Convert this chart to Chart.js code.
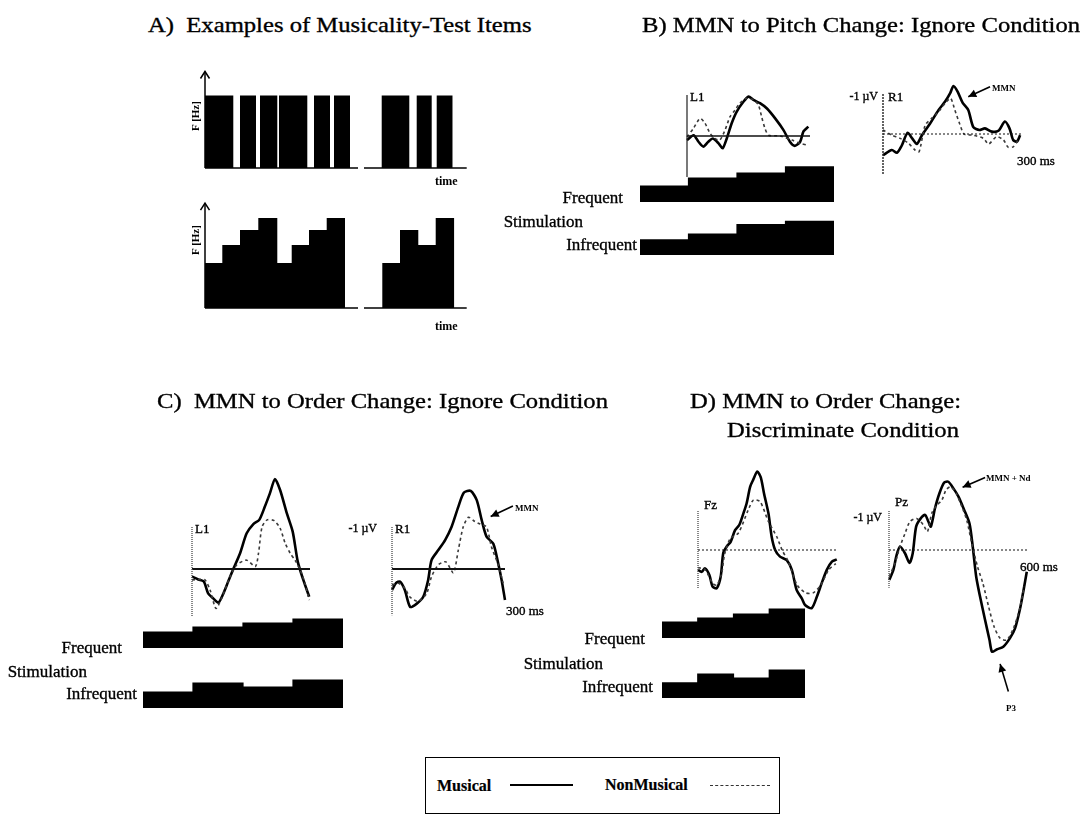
<!DOCTYPE html>
<html>
<head>
<meta charset="utf-8">
<script src="https://cdn.jsdelivr.net/npm/chart.js@4.4.1/dist/chart.umd.min.js"></script>
<style>
  html, body { margin: 0; padding: 0; background: #fff; }
  #fig { position: relative; width: 1086px; height: 816px; overflow: hidden;
         font-family: "Liberation Serif", "Times New Roman", serif; color: #000; }
  .t { position: absolute; white-space: pre; line-height: 1; -webkit-text-stroke: 0.35px #000; }
  canvas { position: absolute; }
  .legend { position: absolute; border: 1.5px solid #000; box-sizing: border-box; }
</style>
</head>
<body>
<div id="fig"></div>
<script>
// ---------- Panel A: musicality-test tone sequences (ms, Hz) ----------
const pitchItemOnsets  = [0, 350, 550, 740, 1090, 1290, 1767, 2117, 2317];
const pitchItemOffsets = [283, 510, 723, 1023, 1250, 1450, 2043, 2267, 2477];
const pitchItemFreqs   = [725, 725, 725, 725, 725, 725, 725, 725, 725];

const orderItemOnsets  = [0, 173, 350, 533, 723, 867, 1040, 1217, 1773, 1950, 2133, 2307];
const orderItemOffsets = [173, 350, 533, 723, 867, 1040, 1217, 1400, 1950, 2133, 2307, 2493];
const orderItemFreqs   = [450, 630, 780, 900, 450, 630, 780, 900, 450, 780, 630, 900];

const itemTimeEnd = 2617;
const itemBreak = [1530, 1590];

// ---------- Stimulation sequences (relative pitch level per tone) ----------
const toneSlots = ['1', '2', '3', '4'];
const stimB_frequent   = [1.0, 1.5, 1.8, 2.2];
const stimB_infrequent = [0.95, 1.3, 1.9, 2.1];
const stimC_frequent   = [1.0, 1.3, 1.55, 1.8];
const stimC_infrequent = [1.0, 1.55, 1.3, 1.75];
const stimD_frequent   = [1.0, 1.25, 1.5, 1.8];
const stimD_infrequent = [0.95, 1.5, 1.25, 1.75];

// ---------- ERP waveforms (time ms, amplitude µV, negative up) ----------
const bL1_musT = [0, 16, 28, 40, 52, 63, 77, 87, 97, 109, 121, 138, 150, 162, 178, 195, 215, 235, 251, 263, 276, 284, 296];
const bL1_mus  = [0.1, -0.02, 0.14, 0.26, 0.14, 0.06, 0.18, 0.30, 0.06, -0.31, -0.59, -0.84, -0.96, -0.88, -0.80, -0.67, -0.43, -0.15, 0.14, 0.24, 0.14, -0.11, -0.23];
const bL1_nonT = [0, 16, 32, 44, 56, 68, 80, 93, 105, 117, 129, 146, 162, 174, 182, 190, 199, 227, 256, 276, 292];
const bL1_non  = [0.02, -0.19, -0.43, -0.31, -0.07, 0.06, 0.10, -0.15, -0.47, -0.63, -0.80, -0.92, -0.88, -0.76, -0.47, -0.19, -0.02, 0, 0.10, 0.18, 0.22];

const bR1_musT = [0, 19, 30, 40, 53, 63, 73, 84, 102, 120, 134, 145, 152, 161, 172, 184, 195, 208, 220, 235, 249, 263, 273, 281, 289, 296];
const bR1_mus  = [0.53, 0.40, 0.47, 0.30, -0.03, 0.11, 0.25, 0.03, -0.27, -0.60, -0.81, -1.02, -1.20, -1.06, -0.78, -0.60, -0.17, -0.10, -0.14, -0.06, -0.08, -0.31, -0.14, 0.15, 0.19, 0.03];
const bR1_nonT = [0, 19, 37, 55, 69, 78, 91, 105, 120, 134, 146, 155, 165, 175, 195, 217, 228, 245, 260, 270, 281, 292];
const bR1_non  = [-0.10, 0.03, 0.11, 0.23, 0.40, 0.44, -0.22, -0.39, -0.56, -0.77, -0.89, -0.60, -0.27, 0, 0.03, 0.11, 0.25, 0.07, 0.15, 0.33, 0.32, 0.15];

const cL1_musT = [0, 16, 30, 41, 54, 67, 78, 92, 105, 122, 139, 156, 171, 185, 198, 211, 224, 241, 256, 269, 283, 298];
const cL1_mus  = [0.18, 0.25, 0.30, 0.58, 0.70, 0.80, 0.62, 0.30, 0, -0.37, -0.85, -1.07, -1.17, -1.48, -1.80, -2.14, -1.88, -1.33, -0.89, -0.17, 0.26, 0.66];
const cL1_nonT = [0, 16, 33, 46, 61, 75, 97, 114, 139, 161, 169, 178, 191, 209, 224, 237, 250, 262, 275, 287, 298];
const cL1_non  = [0.26, 0.25, 0.26, 0.50, 0.94, 0.70, 0.18, -0.10, -0.21, -0.06, -0.37, -1.00, -1.17, -1.15, -0.97, -0.61, -0.37, -0.21, 0.02, 0.34, 0.74];

const cR1_musT = [0, 11, 21, 34, 48, 65, 83, 96, 105, 123, 141, 158, 176, 191, 209, 225, 238, 251, 269, 282, 291, 300];
const cR1_mus  = [0.50, 0.33, 0.30, 0.50, 0.90, 0.83, 0.66, 0.26, -0.21, -0.45, -0.69, -1.00, -1.48, -1.82, -1.86, -1.64, -1.17, -0.77, -0.60, -0.13, 0.26, 0.74];
const cR1_nonT = [0, 17, 34, 48, 70, 92, 105, 123, 143, 163, 176, 189, 203, 220, 234, 251, 264, 282, 295];
const cR1_non  = [0.38, 0.34, 0.46, 0.67, 0.77, 0.58, 0.18, -0.10, -0.17, 0.09, -0.45, -1.00, -1.23, -1.13, -1.07, -1.00, -0.53, -0.10, 0.34];

const dFz_musT = [0, 16, 30, 49, 63, 81, 98, 109, 124, 141, 160, 178, 196, 210, 225, 239, 256, 271, 285, 304, 318, 333, 354, 383, 405, 426, 448, 462, 491, 513, 534, 556, 578, 599];
const dFz_mus  = [0.51, 0.56, 0.47, 0.64, 0.94, 0.98, 0.68, 0.08, -0.09, -0.21, -0.51, -0.64, -0.94, -1.20, -1.62, -1.81, -2.01, -1.86, -1.45, -0.94, -0.34, 0, 0.17, 0.26, 0.51, 1.03, 1.24, 1.41, 1.49, 1.20, 0.85, 0.51, 0.30, 0.24];
const dFz_nonT = [0, 30, 63, 81, 102, 115, 140, 174, 217, 239, 268, 304, 340, 363, 390, 428, 465, 497, 530, 564, 595];
const dFz_non  = [0.45, 0.50, 0.85, 0.90, 0.60, 0.10, -0.30, -0.43, -1.03, -1.28, -1.24, -0.73, -0.34, 0, 0.30, 0.90, 1.10, 1.10, 0.90, 0.51, 0.35];

const dPz_musT = [1, 19, 33, 48, 70, 89, 103, 118, 138, 157, 171, 182, 200, 219, 240, 258, 280, 302, 326, 350, 364, 379, 396, 418, 437, 448, 468, 497, 526, 548, 570, 585, 599];
const dPz_mus  = [0.77, 0.51, 0.13, -0.09, 0.09, 0.33, 0.09, -0.60, -0.81, -0.90, -0.73, -0.60, -1.07, -1.45, -1.73, -1.75, -1.58, -1.37, -1.04, -0.68, -0.09, 0.68, 1.20, 1.80, 2.31, 2.61, 2.55, 2.48, 2.26, 2.01, 1.50, 1.03, 0.56];
const dPz_nonT = [1, 26, 48, 70, 91, 120, 150, 167, 186, 208, 230, 248, 268, 292, 317, 338, 360, 385, 408, 433, 457, 483, 512, 541, 567, 587];
const dPz_non  = [0.68, 0.34, -0.09, -0.43, -0.73, -0.81, -0.64, -0.47, -0.94, -1.15, -1.28, -1.54, -1.62, -1.45, -1.11, -0.77, -0.17, 0.43, 0.85, 1.45, 1.97, 2.26, 2.31, 2.01, 1.54, 0.94];

// Component pointers: [from ms, from µV, to ms, to µV]
const bR1_mmnArrow = [231, -1.18, 184, -0.93];
const cR1_mmnArrow = [321, -1.50, 262, -1.25];
const dPz_mmnArrow = [418, -1.86, 320, -1.61];
const dPz_p3Arrow  = [519, 3.63, 483, 2.92];

// ---------- helpers ----------
const fig = document.getElementById('fig');

const arrowHeads = {
  id: 'arrowHeads',
  afterDatasetsDraw(chart) {
    const ctx = chart.ctx;
    chart.data.datasets.forEach((ds, i) => {
      const h = ds.arrowHead;
      if (!h) return;
      const pts = chart.getDatasetMeta(i).data;
      const a = pts[pts.length - 2], b = pts[pts.length - 1];
      const ang = Math.atan2(b.y - a.y, b.x - a.x);
      const c = Math.cos(ang), s = Math.sin(ang);
      const bx = b.x - h.len * c, by = b.y - h.len * s;
      ctx.save();
      ctx.strokeStyle = ds.borderColor;
      ctx.fillStyle = ds.borderColor;
      ctx.lineWidth = ds.borderWidth;
      ctx.beginPath();
      ctx.moveTo(bx + h.half * s, by - h.half * c);
      ctx.lineTo(b.x, b.y);
      ctx.lineTo(bx - h.half * s, by + h.half * c);
      if (h.open) ctx.stroke(); else { ctx.closePath(); ctx.fill(); }
      ctx.restore();
    });
  }
};
Chart.register(arrowHeads);

function place(left, top, w, h, pad, config) {
  const cv = document.createElement('canvas');
  cv.width = w + 2 * pad; cv.height = h + 2 * pad;
  cv.style.left = (left - pad) + 'px';
  cv.style.top = (top - pad) + 'px';
  cv.style.width = cv.width + 'px';
  cv.style.height = cv.height + 'px';
  fig.appendChild(cv);
  const base = {
    responsive: false, animation: false, devicePixelRatio: 1, events: [],
    layout: { padding: pad },
    plugins: { legend: { display: false }, tooltip: { enabled: false }, title: { display: false } },
    elements: { point: { radius: 0 } }
  };
  config.options = Object.assign(base, config.options || {});
  return new Chart(cv, config);
}

const pts = (xs, ys) => xs.map((x, i) => ({ x, y: ys[i] }));

function line(data, color, width, extra) {
  return Object.assign({ data, borderColor: color, borderWidth: width, pointRadius: 0,
                         tension: 0, clip: false, fill: false }, extra || {});
}

function toneBlocks(on, off, f) {
  const out = [];
  on.forEach((t, i) => {
    out.push({ x: t, y: 0 }, { x: t, y: f[i] }, { x: off[i], y: f[i] }, { x: off[i], y: 0 });
  });
  return out;
}

function itemChart(baseline, axisTop, on, off, f) {
  // x: 10 ms per px from 205; y: 10 Hz per px above the baseline
  place(205, baseline - 100, 262, 100, 14, {
    type: 'line',
    data: { datasets: [
      line(toneBlocks(on, off, f), '#000', 0, { fill: 'origin', backgroundColor: '#000' }),
      line([{ x: 0, y: 0 }, { x: itemBreak[0], y: 0 }], '#000', 1.5),
      line([{ x: itemBreak[1], y: 0 }, { x: itemTimeEnd, y: 0 }], '#000', 1.5),
      line([{ x: 0, y: 0 }, { x: 0, y: axisTop }], '#000', 1.5, { arrowHead: { len: 7, half: 4.5, open: true } })
    ] },
    options: { scales: {
      x: { type: 'linear', min: 0, max: 2620, display: false },
      y: { type: 'linear', min: 0, max: 1000, display: false }
    } }
  });
}

function stimChart(left, bottom, width, values) {
  // 16 px per relative pitch step
  place(left, bottom - 48, width, 48, 4, {
    type: 'bar',
    data: { labels: toneSlots, datasets: [{ data: values, backgroundColor: '#000', borderWidth: 0,
            barPercentage: 1, categoryPercentage: 1, inflateAmount: 0.6 }] },
    options: { scales: {
      x: { display: false },
      y: { min: 0, max: 3, display: false }
    } }
  });
}

function erpChart(cfg) {
  const ds = [];
  ds.push(line([{ x: 0, y: -1 }, { x: 0, y: cfg.axisBottom }], cfg.axisColor, cfg.axisWidth, { borderDash: cfg.axisDash || [] }));
  ds.push(line([{ x: 0, y: 0 }, { x: cfg.T, y: 0 }], '#111', cfg.zeroWidth, { borderDash: cfg.zeroDash || [] }));
  ds.push(line(pts(cfg.nonT, cfg.non), '#3a3a3a', 1.6, { borderDash: [3, 3], tension: 0.25 }));
  ds.push(line(pts(cfg.musT, cfg.mus), '#000', 2.6, { tension: 0.25 }));
  (cfg.arrows || []).forEach(a => {
    ds.push(line([{ x: a[0], y: a[1] }, { x: a[2], y: a[3] }], '#000', 1.6, { arrowHead: { len: 8, half: 4 } }));
  });
  place(cfg.x0, cfg.top, cfg.w, cfg.h, 130, {
    type: 'line',
    data: { datasets: ds },
    options: { scales: {
      x: { type: 'linear', min: 0, max: cfg.T, display: false },
      y: { type: 'linear', min: -1, max: 1, reverse: true, display: false }
    } }
  });
}

function text(str, x, y, size, o) {
  o = o || {};
  const d = document.createElement('div');
  d.className = 't';
  d.textContent = str;
  d.style.fontSize = size + 'px';
  d.style.left = x + 'px';
  d.style.top = (y - size / 2) + 'px';
  if (o.bold) d.style.fontWeight = 'bold';
  if (o.stroke !== undefined) d.style.webkitTextStroke = o.stroke + 'px #000';
  const tf = [];
  if (o.align === 'right') tf.push('translateX(-100%)');
  if (o.rotate) { tf.push('translate(-50%,-50%)'); tf.push('rotate(-90deg)'); d.style.top = y + 'px'; }
  if (o.sx) { tf.push('scaleX(' + o.sx + ')'); d.style.transformOrigin = 'left center'; }
  if (tf.length) d.style.transform = tf.join(' ');
  fig.appendChild(d);
  return d;
}

// ---------- Panel A ----------
itemChart(167.7, 965, pitchItemOnsets, pitchItemOffsets, pitchItemFreqs);
itemChart(308.3, 1048, orderItemOnsets, orderItemOffsets, orderItemFreqs);
text('F [Hz]', 195, 116, 11, { bold: true, rotate: true, stroke: 0 });
text('F [Hz]', 195, 240, 11, { bold: true, rotate: true, stroke: 0 });
text('time', 435, 181, 12, { bold: true, stroke: 0 });
text('time', 435, 326, 12, { bold: true, stroke: 0 });

// ---------- Panel B ----------
erpChart({ x0: 687, top: 95, w: 123, h: 82, T: 300, axisBottom: 1, axisColor: '#222', axisWidth: 1.2,
           zeroWidth: 1.4, musT: bL1_musT, mus: bL1_mus, nonT: bL1_nonT, non: bL1_non });
erpChart({ x0: 883, top: 94, w: 139, h: 80, T: 300, axisBottom: 1, axisColor: '#222', axisWidth: 1.4,
           axisDash: [2, 1], zeroWidth: 1, zeroDash: [2, 2], musT: bR1_musT, mus: bR1_mus, nonT: bR1_nonT, non: bR1_non,
           arrows: [bR1_mmnArrow] });
stimChart(640, 202, 194, stimB_frequent);
stimChart(640, 255, 194, stimB_infrequent);

// ---------- Panel C ----------
erpChart({ x0: 192, top: 527, w: 118, h: 84, T: 300, axisBottom: 1.14, axisColor: '#555', axisWidth: 1.4,
           axisDash: [1, 1], zeroWidth: 2, musT: cL1_musT, mus: cL1_mus, nonT: cL1_nonT, non: cL1_non });
erpChart({ x0: 392, top: 527, w: 113, h: 84, T: 300, axisBottom: 1.1, axisColor: '#555', axisWidth: 1.4,
           axisDash: [1, 1], zeroWidth: 2, musT: cR1_musT, mus: cR1_mus, nonT: cR1_nonT, non: cR1_non,
           arrows: [cR1_mmnArrow] });
stimChart(143, 648, 200, stimC_frequent);
stimChart(143, 708, 200, stimC_infrequent);

// ---------- Panel D ----------
erpChart({ x0: 698, top: 511, w: 139, h: 78, T: 600, axisBottom: 1, axisColor: '#555', axisWidth: 1.4,
           axisDash: [1, 1], zeroWidth: 1, zeroDash: [2, 2], musT: dFz_musT, mus: dFz_mus, nonT: dFz_nonT, non: dFz_non });
erpChart({ x0: 889, top: 511, w: 138, h: 78, T: 600, axisBottom: 0.97, axisColor: '#555', axisWidth: 1.4,
           axisDash: [1, 1], zeroWidth: 1, zeroDash: [2, 2], musT: dPz_musT, mus: dPz_mus, nonT: dPz_nonT, non: dPz_non,
           arrows: [dPz_mmnArrow, dPz_p3Arrow] });
stimChart(662, 638, 143, stimD_frequent);
stimChart(662, 698, 143, stimD_infrequent);

// ---------- titles ----------
const TS = 22, TX = 1.12;
text('A)\u00a0\u00a0Examples of Musicality-Test Items', 148, 25, TS, { sx: TX });
text('B) MMN to Pitch Change: Ignore Condition', 642, 25, TS, { sx: TX });
text('C)\u00a0\u00a0MMN to Order Change: Ignore Condition', 157, 401, TS, { sx: TX });
text('D) MMN to Order Change:', 690, 401, TS, { sx: TX });
text('Discriminate Condition', 727, 430, TS, { sx: TX });

// ---------- stimulation labels ----------
text('Frequent', 623, 197, 17, { align: 'right' });
text('Stimulation', 583, 221, 17, { align: 'right' });
text('Infrequent', 637, 244, 17, { align: 'right' });
text('Frequent', 122, 647, 17, { align: 'right' });
text('Stimulation', 87, 671, 17, { align: 'right' });
text('Infrequent', 137, 693, 17, { align: 'right' });
text('Frequent', 645, 638, 17, { align: 'right' });
text('Stimulation', 603, 663, 17, { align: 'right' });
text('Infrequent', 653, 686, 17, { align: 'right' });

// ---------- electrode / scale labels ----------
text('L1', 690, 96, 13);
text('-1 \u00b5V', 878, 96, 12, { align: 'right' });
text('R1', 888, 96, 13);
text('MMN', 992, 88, 9, { bold: true, stroke: 0 });
text('300 ms', 1017, 160, 13);

text('L1', 195, 528, 13);
text('-1 \u00b5V', 377, 528, 12, { align: 'right' });
text('R1', 395, 528, 13);
text('MMN', 515, 508, 9, { bold: true, stroke: 0 });
text('300 ms', 506, 610, 13);

text('Fz', 704, 504, 13);
text('-1 \u00b5V', 882, 517, 12, { align: 'right' });
text('Pz', 895, 501, 13);
text('MMN + Nd', 986, 478, 9, { bold: true, stroke: 0 });
text('600 ms', 1020, 566, 13);
text('P3', 1006, 708, 9, { bold: true, stroke: 0 });

// ---------- legend ----------
const lg = document.createElement('div');
lg.className = 'legend';
lg.style.left = '425px'; lg.style.top = '757px'; lg.style.width = '355px'; lg.style.height = '57px';
fig.appendChild(lg);
text('Musical', 437, 786, 16, { bold: true, stroke: 0.2 });
text('NonMusical', 605, 785, 16, { bold: true, stroke: 0.2 });
const solidKey = document.createElement('div');
solidKey.style.cssText = 'position:absolute;left:510px;top:784px;width:63px;border-top:2px solid #000;';
fig.appendChild(solidKey);
const dashKey = document.createElement('div');
dashKey.style.cssText = 'position:absolute;left:710px;top:785px;width:60px;border-top:1px dashed #333;';
fig.appendChild(dashKey);
</script>
</body>
</html>
